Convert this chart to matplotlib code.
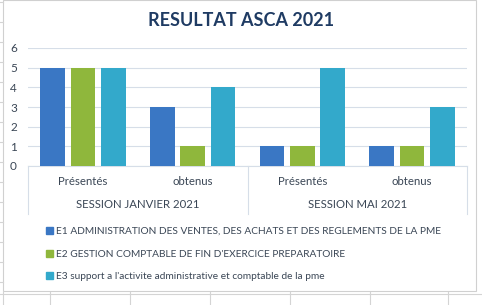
import matplotlib.pyplot as plt
from matplotlib.lines import Line2D
from matplotlib.patches import Patch

categories = ["Présentés", "obtenus", "Présentés", "obtenus"]
sessions = ["SESSION JANVIER 2021", "SESSION MAI 2021"]
e1 = [5, 3, 1, 1]
e2 = [5, 1, 1, 1]
e3 = [5, 4, 5, 3]
series_names = [
    "E1 ADMINISTRATION DES VENTES, DES ACHATS ET DES REGLEMENTS DE LA PME",
    "E2 GESTION COMPTABLE DE FIN D'EXERCICE PREPARATOIRE",
    "E3 support a l'activite administrative et comptable de la pme",
]
colors = ["#3a77c4", "#8fb73c", "#33a9cb"]
text_col = "#3a4655"

plt.rcParams["font.family"] = ["Lato", "DejaVu Sans"]

fig = plt.figure(figsize=(4.82, 3.05), dpi=100)
W, H = 482, 305

# spreadsheet grid behind the chart
for xg in [3, 50, 130, 210, 290, 370, 448]:
    fig.add_artist(Line2D([xg / W, xg / W], [0, 1 - 292 / H], color="#d4d4d4", lw=0.8))
fig.add_artist(Line2D([0, 1], [1 - 294 / H] * 2, color="#d4d4d4", lw=0.8))
for yg in [2, 22, 42, 62, 82, 102, 122, 142, 162, 182, 202, 222, 242, 262, 282]:
    fig.add_artist(Line2D([0, 3 / W], [1 - yg / H] * 2, color="#d4d4d4", lw=0.8))
# chart frame
fig.add_artist(plt.Rectangle((3 / W, 1 - 291 / H), 473 / W, 291 / H,
                             fill=False, ec="#d0d0d0", lw=0.8))

ax = fig.add_axes([28 / W, 1 - 166 / H, 439 / W, 118 / H])
x = range(len(categories))
bw = 0.225
step = 0.277
for k, vals in enumerate([e1, e2, e3]):
    ax.bar([i + (k - 1) * step for i in x], vals, width=bw, color=colors[k], zorder=3)

ax.set_xlim(-0.5, 3.5)
ax.set_ylim(0, 6)
ax.set_yticks(range(7))
ax.yaxis.grid(True, color="#d6dee8", lw=0.8, zorder=0)
ax.tick_params(axis="y", length=0, labelsize=8.5, labelcolor=text_col, pad=8)
ax.set_xticks([])
for s in ["top", "right", "left"]:
    ax.spines[s].set_visible(False)
ax.spines["bottom"].set_color("#d6dee8")

# category labels
for i, c in enumerate(categories):
    ax.text(i, -0.13, c, transform=ax.get_xaxis_transform(), ha="center", va="center",
            fontsize=8.2, color=text_col)
for j, s in enumerate(sessions):
    ax.text(0.5 + 2 * j, -0.33, s, transform=ax.get_xaxis_transform(), ha="center",
            va="center", fontsize=8.2, color=text_col)
for xs in [-0.5, 1.5, 3.5]:
    ax.add_line(Line2D([xs, xs], [0, -0.41], transform=ax.get_xaxis_transform(),
                       color="#d6dee8", lw=0.8, clip_on=False))

fig.text(241 / W, 1 - 20 / H, "RESULTAT ASCA 2021", ha="center", va="center",
         fontsize=13, fontweight="bold", color="#1f3b63")

handles = [Patch(color=c) for c in colors]
fig.legend(handles, series_names, loc="upper left", bbox_to_anchor=(41 / W, 1 - 222 / H),
           frameon=False, fontsize=7.3, labelcolor=text_col, handlelength=0.65,
           handleheight=0.65, handletextpad=0.35, labelspacing=1.35, borderpad=0)

fig.savefig("out.png", dpi=100)
